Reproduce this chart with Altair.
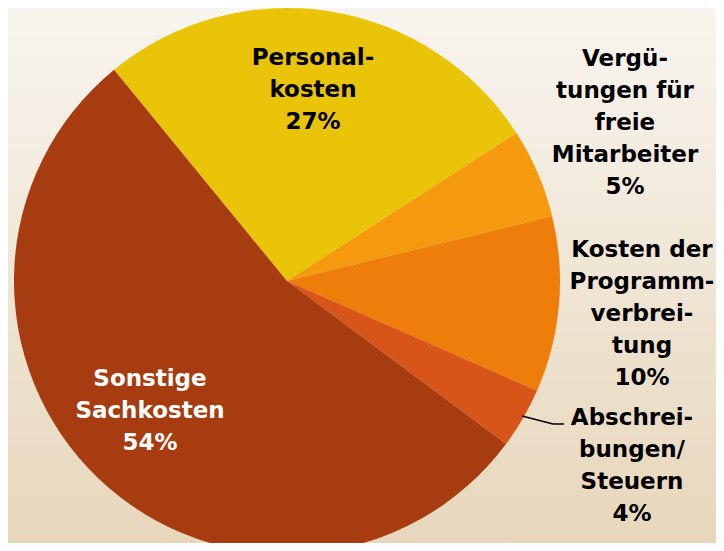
import altair as alt
import pandas as pd

# Data
categories = ["Personalkosten", "Vergütungen für freie Mitarbeiter",
              "Kosten der Programmverbreitung", "Abschreibungen/Steuern",
              "Sonstige Sachkosten"]
shares = [26.8, 5.3, 10.4, 3.6, 53.9]
label_texts = ["Personal-\nkosten\n27%",
               "Vergü-\ntungen für\nfreie\nMitarbeiter\n5%",
               "Kosten der\nProgramm-\nverbrei-\ntung\n10%",
               "Abschrei-\nbungen/\nSteuern\n4%",
               "Sonstige\nSachkosten\n54%"]
colors = ["#EAC408", "#F5990F", "#EE7D0A", "#D75518", "#A63C10"]

# Layout (chart pixel coordinates)
W, H = 708, 535
CX, CY, R = 279, 273, 273
START = -0.686
label_x = [305, 617, 634, 624, 142]
label_y = [57, 58, 249, 417, 378]
label_color = ["black", "black", "black", "black", "white"]

df = pd.DataFrame({"cat": categories, "share": shares,
                   "order": list(range(len(categories)))})
lab = pd.DataFrame({"text": [t.split("\n") for t in label_texts],
                    "lx": label_x, "ly": label_y, "col": label_color})

bg = alt.Chart(pd.DataFrame({"a": [0]})).mark_rect(
    fill=alt.Gradient(gradient="linear", x1=0, y1=0, x2=0, y2=1,
                      stops=[alt.GradientStop(color="#F8F5F0", offset=0),
                             alt.GradientStop(color="#E7D6BA", offset=1)])
).encode(x=alt.value(-8), x2=alt.value(W + 8), y=alt.value(-8), y2=alt.value(H + 8))

pie = alt.Chart(df).mark_arc(stroke=None).encode(
    theta=alt.Theta("share:Q", stack=True,
                    scale=alt.Scale(range=[START, START + 6.283185])),
    order=alt.Order("order:Q"),
    color=alt.Color("cat:N", scale=alt.Scale(domain=categories, range=colors),
                    legend=None),
    x=alt.value(CX), y=alt.value(CY), radius=alt.value(R),
)

texts = alt.Chart(lab).mark_text(
    font="DejaVu Sans", fontWeight="bold", fontSize=23, lineHeight=32,
    align="center", baseline="alphabetic"
).encode(
    text="text", x=alt.X("lx:Q", scale=None), y=alt.Y("ly:Q", scale=None),
    color=alt.Color("col:N", scale=None),
)

lead1 = alt.Chart(pd.DataFrame({"a": [0]})).mark_rule(color="black", strokeWidth=1.5).encode(
    x=alt.value(514), y=alt.value(408), x2=alt.value(545), y2=alt.value(416))
lead2 = alt.Chart(pd.DataFrame({"a": [0]})).mark_rule(color="black", strokeWidth=1.5).encode(
    x=alt.value(545), y=alt.value(416), x2=alt.value(556), y2=alt.value(416))

chart = alt.layer(bg, pie, lead1, lead2, texts).properties(
    width=W, height=H, padding=0,
    autosize=alt.AutoSizeParams(type="none"),
    background="#F8F5F0",
).configure_view(stroke=None)

chart.save("out.html", embed_options={"renderer": "svg", "actions": False})
